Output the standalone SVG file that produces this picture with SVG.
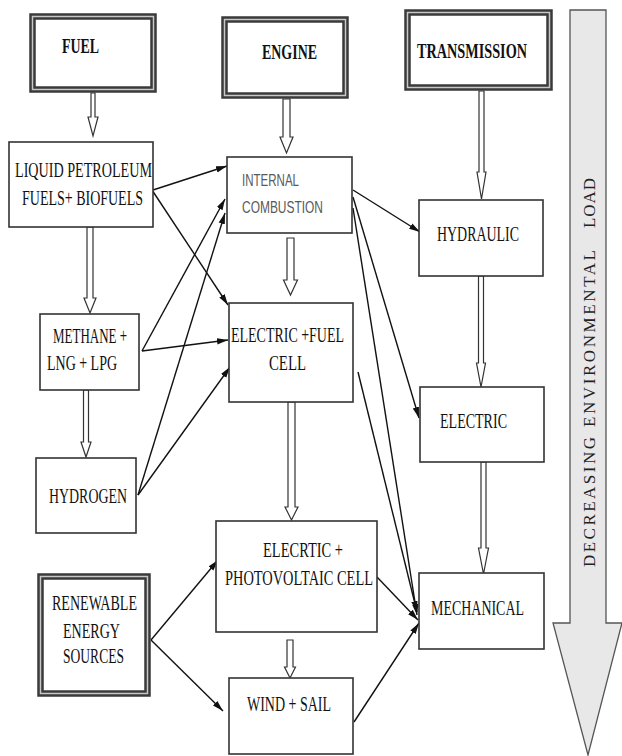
<svg xmlns="http://www.w3.org/2000/svg" width="622" height="756" viewBox="0 0 622 756">
<style>
.box{fill:#fff;stroke:#333;stroke-width:1.6}
.dbo{fill:#fff;stroke:#3a3a3a;stroke-width:6.5}
.dbi{fill:none;stroke:#c8c8c8;stroke-width:1.5}
.t{font-family:"Liberation Serif","Times New Roman",serif;font-size:21px;fill:#111}
.tb{font-family:"Liberation Serif","Times New Roman",serif;font-size:22px;font-weight:bold;fill:#111}
.ts{font-family:"Liberation Sans","Open Sans",sans-serif;font-size:17px;fill:#5a5a5a}
.tv{font-family:"Liberation Serif","Times New Roman",serif;font-size:17px;fill:#222}
.ha{fill:#fff;stroke:#333;stroke-width:1.2;stroke-linejoin:miter}
.ln{fill:none;stroke:#111;stroke-width:1.4;marker-end:url(#ah)}
.big{fill:#e8e8e8;stroke:#555;stroke-width:1.3}
</style>
<defs>
<marker id="ah" markerUnits="userSpaceOnUse" markerWidth="12" markerHeight="8" refX="11" refY="4" orient="auto">
<path d="M0,0.8 L11,4 L0,7.2 Z" fill="#111"/>
</marker>
</defs>

<g id="load-arrow">
<path class="big" d="M570,10 L606,10 L606,623 L622,623 L588,755 L553,623 L570,623 Z"/>
<text class="tv" transform="translate(595,0) rotate(-90)" x="-567" y="0" textLength="130" lengthAdjust="spacing">DECREASING</text>
<text class="tv" transform="translate(595,0) rotate(-90)" x="-427" y="0" textLength="177" lengthAdjust="spacing">ENVIRONMENTAL</text>
<text class="tv" transform="translate(595,0) rotate(-90)" x="-228" y="0" textLength="50" lengthAdjust="spacing">LOAD</text>
</g>

<g id="connectors">
<path class="ha" d="M91,93 L91,117 L88,117 L93,136 L98,117 L95,117 L95,93 Z"/>
<path class="ha" d="M283,99 L283,137 L280,137 L286.5,153 L293,137 L290,137 L290,99 Z"/>
<path class="ha" d="M479,91 L479,172 L477,172 L481.5,199 L486,172 L484,172 L484,91 Z"/>
<path class="ha" d="M87,227 L87,298 L84,298 L90,313 L96,298 L93,298 L93,227 Z"/>
<path class="ha" d="M287,238 L287,280 L283.5,280 L290.5,295 L297.5,280 L294,280 L294,238 Z"/>
<path class="ha" d="M478.5,276 L478.5,363 L476.5,363 L481,387 L485.5,363 L483.5,363 L483.5,276 Z"/>
<path class="ha" d="M83.5,390 L83.5,442 L81,442 L86,457 L91,442 L88.5,442 L88.5,390 Z"/>
<path class="ha" d="M288,402 L288,507 L285,507 L291.5,520 L298,507 L295,507 L295,402 Z"/>
<path class="ha" d="M481,462 L481,548 L478.5,548 L483.5,574 L488.5,548 L486,548 L486,462 Z"/>
<path class="ha" d="M287,640 L287,667 L284.5,667 L290,678 L295.5,667 L293,667 L293,640 Z"/>
<line class="ln" x1="153" y1="190" x2="227" y2="166"/>
<line class="ln" x1="152" y1="190" x2="228" y2="305"/>
<line class="ln" x1="142" y1="351" x2="228" y2="340"/>
<line class="ln" x1="142" y1="351" x2="225" y2="199"/>
<line class="ln" x1="138" y1="495" x2="225" y2="213"/>
<line class="ln" x1="138" y1="495" x2="230" y2="367"/>
<line class="ln" x1="353" y1="190" x2="420" y2="232"/>
<line class="ln" x1="353" y1="197" x2="419" y2="418"/>
<line class="ln" x1="353" y1="208" x2="417" y2="615"/>
<line class="ln" x1="358" y1="372" x2="417" y2="612"/>
<line class="ln" x1="151" y1="640" x2="218" y2="560"/>
<line class="ln" x1="151" y1="640" x2="223" y2="711"/>
<line class="ln" x1="377" y1="577" x2="418" y2="620"/>
<line class="ln" x1="354" y1="722" x2="419" y2="623"/>
</g>

<g id="fuel">
<rect class="dbo" x="32.5" y="16.5" width="121" height="73"/>
<rect class="dbi" x="32.5" y="16.5" width="121" height="73"/>
<text class="tb" x="62" y="53" textLength="37" lengthAdjust="spacingAndGlyphs">FUEL</text>
</g>
<g id="engine">
<rect class="dbo" x="224.5" y="19.5" width="121" height="76"/>
<rect class="dbi" x="224.5" y="19.5" width="121" height="76"/>
<text class="tb" x="262" y="59" textLength="55" lengthAdjust="spacingAndGlyphs">ENGINE</text>
</g>
<g id="transmission">
<rect class="dbo" x="407.5" y="12.5" width="142" height="75"/>
<rect class="dbi" x="407.5" y="12.5" width="142" height="75"/>
<text class="tb" x="417" y="58" textLength="110" lengthAdjust="spacingAndGlyphs">TRANSMISSION</text>
</g>

<g id="liquid">
<rect class="box" x="9" y="142" width="144" height="85"/>
<text class="t" x="15" y="177" textLength="137" lengthAdjust="spacingAndGlyphs">LIQUID PETROLEUM</text>
<text class="t" x="22" y="205" textLength="121" lengthAdjust="spacingAndGlyphs">FUELS+ BIOFUELS</text>
</g>
<g id="internal-combustion">
<rect class="box" x="227" y="157" width="125" height="76"/>
<text class="ts" x="242" y="186" textLength="57" lengthAdjust="spacingAndGlyphs">INTERNAL</text>
<text class="ts" x="242" y="213" textLength="81" lengthAdjust="spacingAndGlyphs">COMBUSTION</text>
</g>
<g id="hydraulic">
<rect class="box" x="419" y="200" width="124" height="76"/>
<text class="t" x="437" y="241" textLength="82" lengthAdjust="spacingAndGlyphs">HYDRAULIC</text>
</g>
<g id="methane">
<rect class="box" x="40" y="314" width="99" height="76"/>
<text class="t" x="53" y="343" textLength="74" lengthAdjust="spacingAndGlyphs">METHANE  +</text>
<text class="t" x="47" y="370" textLength="70" lengthAdjust="spacingAndGlyphs">LNG + LPG</text>
</g>
<g id="electric-fuel-cell">
<rect class="box" x="229" y="303" width="124" height="99"/>
<text class="t" x="231" y="342" textLength="113" lengthAdjust="spacingAndGlyphs">ELECTRIC +FUEL</text>
<text class="t" x="269" y="370" textLength="37" lengthAdjust="spacingAndGlyphs">CELL</text>
</g>
<g id="electric">
<rect class="box" x="420" y="387" width="124" height="75"/>
<text class="t" x="440" y="428" textLength="67" lengthAdjust="spacingAndGlyphs">ELECTRIC</text>
</g>
<g id="hydrogen">
<rect class="box" x="36" y="458" width="100" height="75"/>
<text class="t" x="49" y="503" textLength="78" lengthAdjust="spacingAndGlyphs">HYDROGEN</text>
</g>
<g id="photovoltaic">
<rect class="box" x="216" y="521" width="161" height="111"/>
<text class="t" x="263" y="557" textLength="80" lengthAdjust="spacingAndGlyphs">ELECRTIC +</text>
<text class="t" x="225" y="585" textLength="148" lengthAdjust="spacingAndGlyphs">PHOTOVOLTAIC CELL</text>
</g>
<g id="renewable">
<rect class="dbo" x="40.5" y="576.5" width="107" height="117"/>
<rect class="dbi" x="40.5" y="576.5" width="107" height="117"/>
<text class="t" x="52" y="610" textLength="85" lengthAdjust="spacingAndGlyphs">RENEWABLE</text>
<text class="t" x="63" y="638" textLength="57" lengthAdjust="spacingAndGlyphs">ENERGY</text>
<text class="t" x="63" y="663" textLength="61" lengthAdjust="spacingAndGlyphs">SOURCES</text>
</g>
<g id="mechanical">
<rect class="box" x="419" y="573" width="125" height="76"/>
<text class="t" x="431" y="615" textLength="93" lengthAdjust="spacingAndGlyphs">MECHANICAL</text>
</g>
<g id="wind-sail">
<rect class="box" x="229" y="678" width="124" height="76"/>
<text class="t" x="247" y="711" textLength="84" lengthAdjust="spacingAndGlyphs">WIND + SAIL</text>
</g>
</svg>
